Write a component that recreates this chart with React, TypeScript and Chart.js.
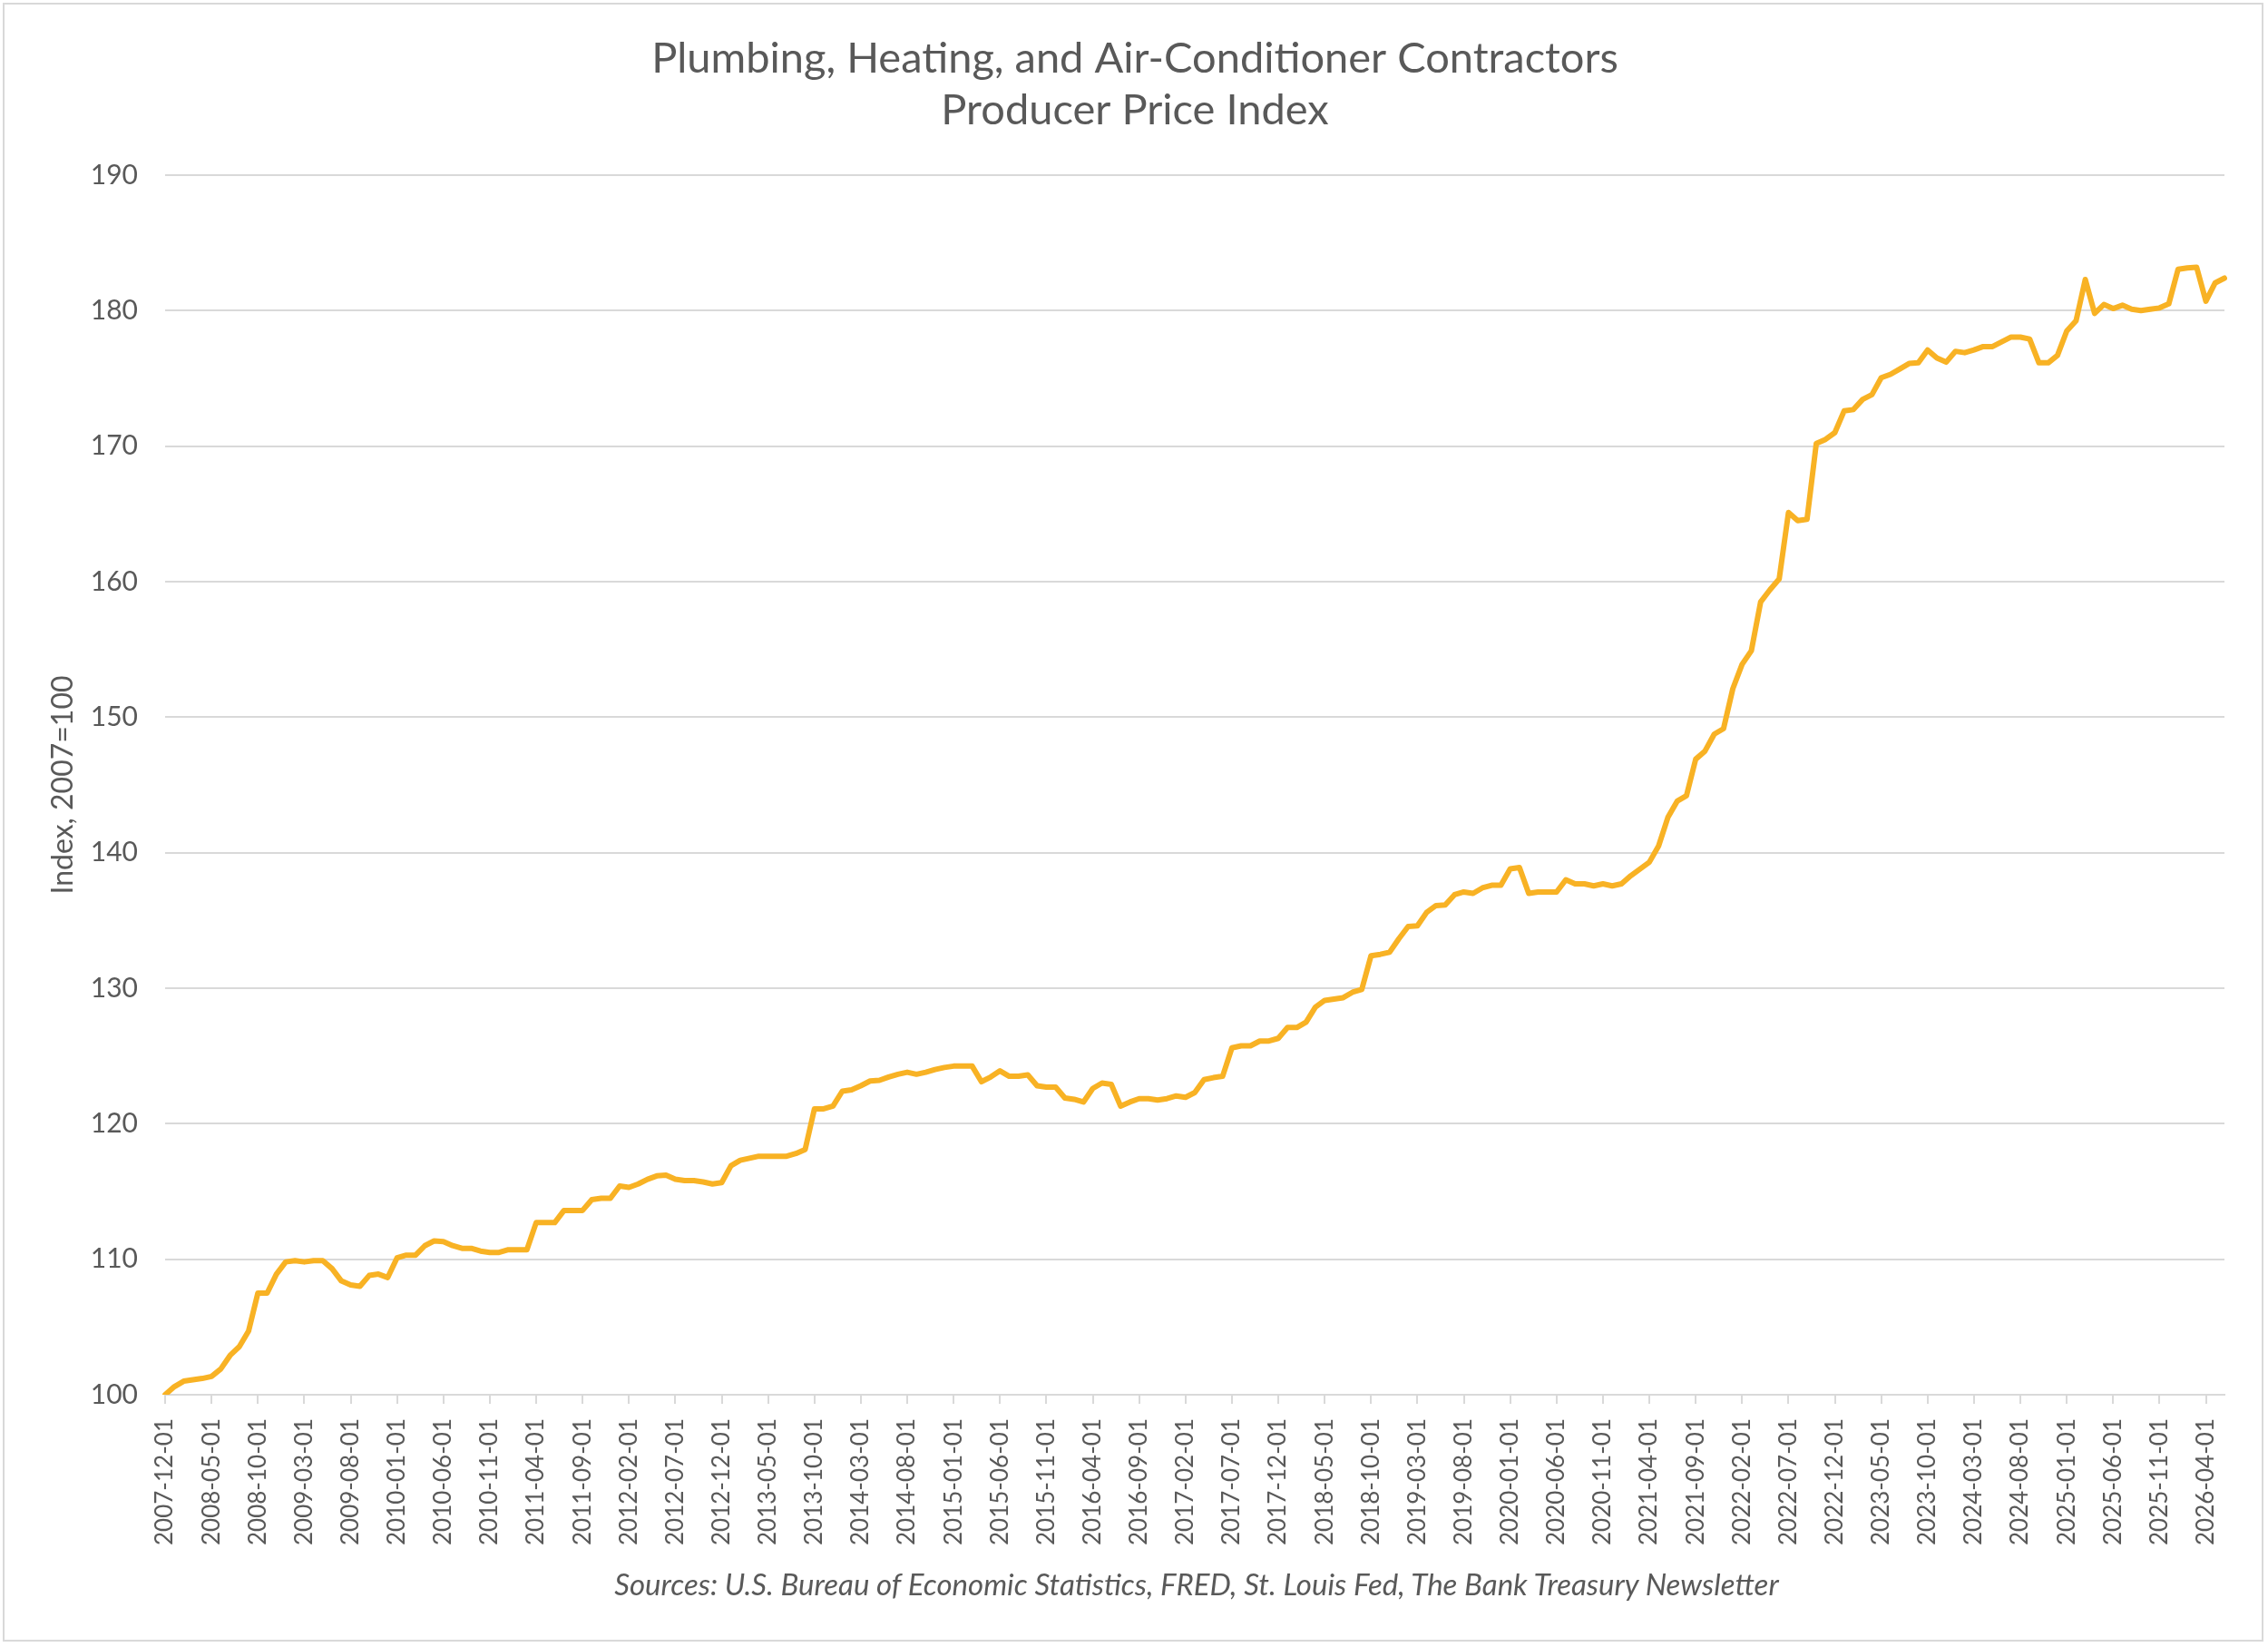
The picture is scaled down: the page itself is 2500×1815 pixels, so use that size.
import { useEffect, useRef } from "react";
import Chart from "chart.js/auto";

// Índice mensal, 2007-12 até 2026-06
const v2007 = [100.0];
const v2008 = [100.6, 101.0, 101.1, 101.2, 101.35, 101.9, 102.9, 103.55, 104.7, 107.5, 107.5, 108.9];
const v2009 = [109.8, 109.9, 109.8, 109.9, 109.9, 109.3, 108.4, 108.1, 108.0, 108.8, 108.9, 108.65];
const v2010 = [110.1, 110.3, 110.3, 111.0, 111.35, 111.3, 111.0, 110.8, 110.8, 110.6, 110.5, 110.5];
const v2011 = [110.7, 110.7, 110.7, 112.7, 112.7, 112.7, 113.6, 113.6, 113.6, 114.4, 114.5, 114.5];
const v2012 = [115.4, 115.3, 115.55, 115.9, 116.15, 116.2, 115.9, 115.8, 115.8, 115.7, 115.55, 115.65];
const v2013 = [116.9, 117.3, 117.45, 117.6, 117.6, 117.6, 117.6, 117.8, 118.1, 121.1, 121.1, 121.3];
const v2014 = [122.4, 122.5, 122.8, 123.15, 123.2, 123.45, 123.65, 123.8, 123.65, 123.8, 124.0, 124.15];
const v2015 = [124.25, 124.25, 124.25, 123.1, 123.45, 123.9, 123.5, 123.5, 123.6, 122.8, 122.7, 122.7];
const v2016 = [121.9, 121.8, 121.6, 122.6, 123.0, 122.9, 121.3, 121.6, 121.85, 121.85, 121.75, 121.85];
const v2017 = [122.05, 121.95, 122.3, 123.25, 123.4, 123.5, 125.6, 125.75, 125.75, 126.1, 126.1, 126.3];
const v2018 = [127.1, 127.1, 127.5, 128.6, 129.1, 129.2, 129.3, 129.7, 129.9, 132.4, 132.5, 132.65];
const v2019 = [133.65, 134.55, 134.6, 135.6, 136.1, 136.15, 136.9, 137.1, 137.0, 137.4, 137.6, 137.6];
const v2020 = [138.8, 138.9, 137.0, 137.1, 137.1, 137.1, 138.0, 137.7, 137.7, 137.55, 137.7, 137.55];
const v2021 = [137.7, 138.3, 138.8, 139.3, 140.5, 142.6, 143.8, 144.2, 146.9, 147.5, 148.75, 149.15];
const v2022 = [152.1, 153.9, 154.9, 158.5, 159.4, 160.2, 165.1, 164.5, 164.6, 170.2, 170.5, 171.0];
const v2023 = [172.6, 172.7, 173.45, 173.8, 175.05, 175.3, 175.7, 176.1, 176.15, 177.1, 176.5, 176.2];
const v2024 = [177.0, 176.9, 177.1, 177.35, 177.35, 177.7, 178.05, 178.05, 177.9, 176.15, 176.15, 176.7];
const v2025 = [178.5, 179.25, 182.3, 179.8, 180.45, 180.15, 180.4, 180.1, 180.0, 180.1, 180.2, 180.5];
const v2026 = [183.05, 183.15, 183.2, 180.7, 182.05, 182.4];

const valores = [
  ...v2007, ...v2008, ...v2009, ...v2010, ...v2011, ...v2012, ...v2013,
  ...v2014, ...v2015, ...v2016, ...v2017, ...v2018, ...v2019, ...v2020,
  ...v2021, ...v2022, ...v2023, ...v2024, ...v2025, ...v2026,
];

// rótulos de data: um por mês a partir de 2007-12-01
const categorias = valores.map((_, i) => {
  const m = 11 + i;
  const ano = 2007 + Math.floor(m / 12);
  const mes = (m % 12) + 1;
  return `${ano}-${String(mes).padStart(2, "0")}-01`;
});

const TITULO = ["Plumbing, Heating, and Air-Conditioner Contractors", "Producer Price Index"];
const FONTE = "Sources: U.S. Bureau of Economic Statistics, FRED, St. Louis Fed, The Bank Treasury Newsletter";
const EIXO_Y = "Index, 2007=100";

const FAMILIA = "Lato, 'Open Sans', sans-serif";
const CINZA = "#595959";
const GRADE = "#d9d9d9";

export default function App() {
  const canvasRef = useRef<HTMLCanvasElement>(null);

  useEffect(() => {
    const canvas = canvasRef.current;
    if (!canvas) return;
    const chart = new Chart(canvas, {
      type: "line",
      data: {
        labels: categorias,
        datasets: [
          {
            data: valores,
            borderColor: "#f8b224",
            borderWidth: 6,
            pointRadius: 0,
            tension: 0,
            borderJoinStyle: "round",
            borderCapStyle: "round",
          },
        ],
      },
      options: {
        animation: false,
        responsive: true,
        maintainAspectRatio: false,
        devicePixelRatio: 1,
        // 108 embaixo deixa espaço para a linha de fontes (HTML)
        layout: { padding: { left: 50, right: 48, top: 0, bottom: 108 } },
        plugins: {
          legend: { display: false },
          tooltip: { enabled: false },
          title: {
            display: true,
            text: TITULO,
            color: CINZA,
            font: { family: FAMILIA, size: 47, weight: "normal", lineHeight: "57px" },
            padding: { top: 36, bottom: 43 },
          },
        },
        scales: {
          x: {
            type: "category",
            offset: false,
            grid: { drawOnChartArea: false, drawTicks: true, tickLength: 10, color: GRADE, lineWidth: 2 },
            border: { display: true, color: GRADE, width: 2 },
            ticks: {
              autoSkip: false,
              minRotation: 90,
              maxRotation: 90,
              padding: 16,
              color: CINZA,
              font: { family: FAMILIA, size: 26 },
              callback: (_v, i) => (i % 5 === 0 ? categorias[i] : null),
            },
            afterFit: (escala) => {
              escala.height = 170;
            },
          },
          y: {
            min: 100,
            max: 190,
            ticks: { stepSize: 10, padding: 30, color: CINZA, font: { family: FAMILIA, size: 30 } },
            grid: { color: GRADE, lineWidth: 2, drawTicks: false },
            border: { display: false },
            title: {
              display: true,
              text: EIXO_Y,
              color: CINZA,
              font: { family: FAMILIA, size: 32 },
              padding: { top: 0, bottom: 0 },
            },
            afterFit: (escala) => {
              escala.width = 132;
            },
          },
        },
      },
    });
    return () => chart.destroy();
  }, []);

  return (
    <div style={{ position: "absolute", left: 0, top: 0, width: 2500, height: 1815, background: "#fff" }}>
      <canvas ref={canvasRef}></canvas>
      <div
        style={{
          position: "absolute",
          left: 319,
          top: 1725,
          width: 2000,
          lineHeight: "40px",
          textAlign: "center",
          fontFamily: FAMILIA,
          fontSize: 33,
          fontStyle: "italic",
          color: CINZA,
          whiteSpace: "nowrap",
        }}
      >
        {FONTE}
      </div>
      <div
        style={{
          position: "absolute",
          left: 3,
          top: 3,
          width: 2492,
          height: 1806,
          border: `2px solid ${GRADE}`,
          boxSizing: "border-box",
          pointerEvents: "none",
        }}
      />
    </div>
  );
}
